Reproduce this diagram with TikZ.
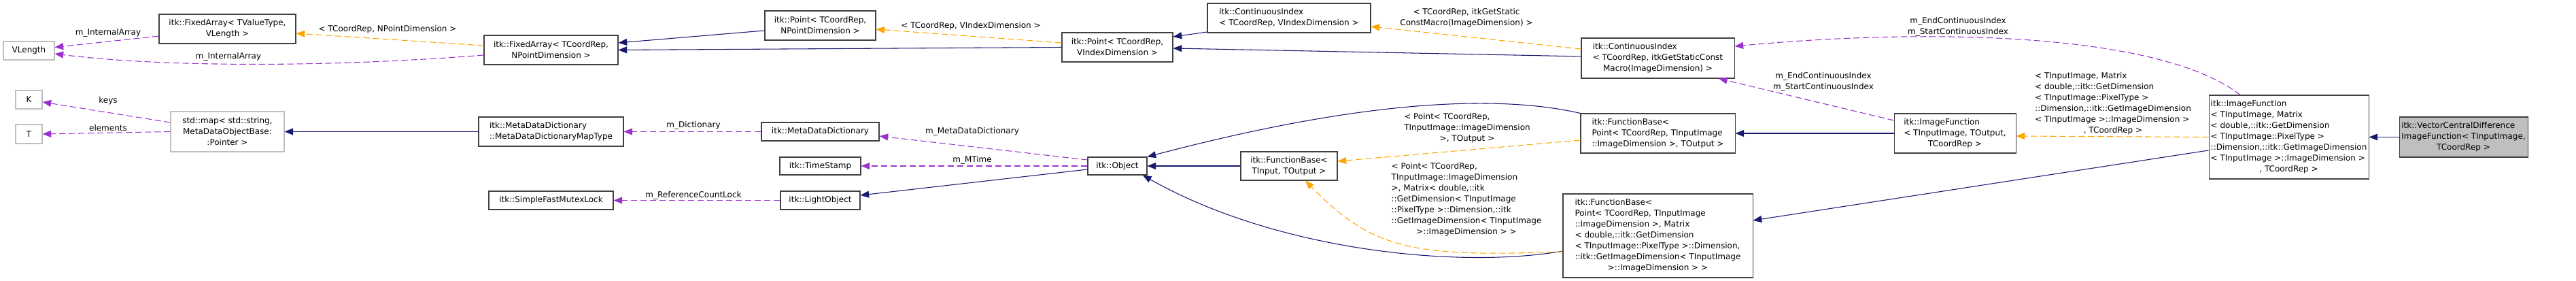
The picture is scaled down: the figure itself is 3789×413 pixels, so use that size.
\documentclass[tikz,border=0pt]{standalone}
\usepackage{fontspec}
\setmainfont{DejaVu Sans}
\usepackage{xcolor}
\usepackage{tikz}
\usetikzlibrary{arrows.meta}
\definecolor{inhblue}{HTML}{191970}
\definecolor{mempurple}{HTML}{9A32CD}
\definecolor{tplorange}{HTML}{FFA500}
\definecolor{clsborder}{HTML}{404040}
\definecolor{extborder}{HTML}{BFBFBF}
\definecolor{mainfill}{HTML}{BFBFBF}
\newcommand{\dgfont}{\fontsize{9}{12}\selectfont}
\newcommand{\lastmid}[1]{\hspace*{\fill}#1\hspace*{\fill}}

\begin{document}
\begin{tikzpicture}[x=0.75pt, y=-0.75pt,
  cls/.style 2 args={draw=clsborder, line width=0.8pt, inner sep=1pt, align=center, font=\dgfont, minimum width=#1*0.75pt, minimum height=#2*0.75pt},
  ext/.style 2 args={cls={#1}{#2}, draw=extborder},
  lbl/.style={inner sep=0pt, align=center, font=\dgfont},
  inh/.style={draw=inhblue, line width=0.8pt, -{Triangle[length=9.5pt, width=7.5pt]}},
  mem/.style={inh, draw=mempurple, dash pattern=on 7pt off 3.5pt},
  tpl/.style={inh, draw=tplorange, dash pattern=on 7pt off 3.5pt}]
  \useasboundingbox (0,0) rectangle (3789,413);

  % classes
  \node[ext={75}{27}] (vlen) at (42.5,74.5) {VLength};
  \node[ext={39}{27}] (kk) at (42.5,146.5) {K};
  \node[ext={39}{28}] (tt) at (42.5,197) {T};
  \node[cls={201}{43}] (fixv) at (334.5,42.5) {itk::FixedArray< TValueType,\\VLength >};
  \node[ext={167}{59}] (stdmap) at (334.5,193.5) {std::map< std::string,\\MetaDataObjectBase:\\:Pointer >};
  \node[cls={197}{43}] (fixn) at (810.5,73.5) {itk::FixedArray< TCoordRep,\\NPointDimension >};
  \node[cls={213}{43}, align=left] (mapty) at (810.5,193.5) {itk::MetaDataDictionary\\::MetaDataDictionaryMapType};
  \node[cls={183}{27}] (mutex) at (810.5,294.5) {itk::SimpleFastMutexLock};
  \node[cls={163}{43}] (pntn) at (1206.5,37.5) {itk::Point< TCoordRep,\\NPointDimension >};
  \node[cls={173}{27}] (mdd) at (1206.5,193.5) {itk::MetaDataDictionary};
  \node[cls={119}{26}] (tstamp) at (1206.5,244) {itk::TimeStamp};
  \node[cls={117}{27}] (light) at (1206.5,294.5) {itk::LightObject};
  \node[cls={163}{43}] (pntv) at (1643.5,69.5) {itk::Point< TCoordRep,\\VIndexDimension >};
  \node[cls={87}{26}] (obj) at (1643.5,244) {itk::Object};
  \node[cls={240}{43}, align=left] (cidxv) at (1896,26.5) {itk::ContinuousIndex\\< TCoordRep, VIndexDimension >};
  \node[cls={142}{42}] (fbase) at (1896,244) {itk::FunctionBase<\\TInput, TOutput >};
  \node[cls={225}{59}, align=left] (cidxs) at (2438.5,85.5) {itk::ContinuousIndex\\< TCoordRep, itkGetStaticConst\\\lastmid{Macro(ImageDimension) >}};
  \node[cls={227}{58}, align=left] (fbpt) at (2438.5,196) {itk::FunctionBase<\\Point< TCoordRep, TInputImage\\::ImageDimension >, TOutput >};
  \node[cls={279}{123}, align=left] (fbmx) at (2438.5,346.5) {itk::FunctionBase<\\Point< TCoordRep, TInputImage\\::ImageDimension >, Matrix\\< double,::itk::GetDimension\\< TInputImage::PixelType >::Dimension,\\::itk::GetImageDimension< TInputImage\\\lastmid{>::ImageDimension > >}};
  \node[cls={179}{58}, align=left] (imgf) at (2875.5,196) {itk::ImageFunction\\< TInputImage, TOutput,\\\lastmid{TCoordRep >}};
  \node[cls={235}{123}, align=left] (imgfm) at (3366.5,201.5) {itk::ImageFunction\\< TInputImage, Matrix\\< double,::itk::GetDimension\\< TInputImage::PixelType >\\::Dimension,::itk::GetImageDimension\\< TInputImage >::ImageDimension >\\\lastmid{, TCoordRep >}};
  \node[cls={189}{59}, align=left, fill=mainfill] (vcd) at (3623.5,201.5) {itk::VectorCentralDifference\\ImageFunction< TInputImage,\\\lastmid{TCoordRep >}};

  % edge labels
  \node[lbl] (l1) at (159,48) {m\_InternalArray};
  \node[lbl] (l2) at (336,83) {m\_InternalArray};
  \node[lbl] (l3) at (159,148) {keys};
  \node[lbl] (l4) at (159,188) {elements};
  \node[lbl] (l5) at (570,43) {< TCoordRep, NPointDimension >};
  \node[lbl] (l6) at (1020,184) {m\_Dictionary};
  \node[lbl] (l7) at (1020,287) {m\_ReferenceCountLock};
  \node[lbl] (l8) at (1428,38) {< TCoordRep, VIndexDimension >};
  \node[lbl] (l9) at (1430,193) {m\_MetaDataDictionary};
  \node[lbl] (l10) at (1430,235) {m\_MTime};
  \node[lbl] (l11) at (2157,26) {< TCoordRep, itkGetStatic\\ConstMacro(ImageDimension) >};
  \node[lbl, align=left] (l12) at (2158,188) {< Point< TCoordRep,\\TInputImage::ImageDimension\\\lastmid{>, TOutput >}};
  \node[lbl, align=left] (l13) at (2157,293) {< Point< TCoordRep,\\TInputImage::ImageDimension\\>, Matrix< double,::itk\\::GetDimension< TInputImage\\::PixelType >::Dimension,::itk\\::GetImageDimension< TInputImage\\\lastmid{>::ImageDimension > >}};
  \node[lbl] (l14) at (2682,120) {m\_EndContinuousIndex\\m\_StartContinuousIndex};
  \node[lbl] (l15) at (2880,39) {m\_EndContinuousIndex\\m\_StartContinuousIndex};
  \node[lbl, align=left] (l16) at (3108,152) {< TInputImage, Matrix\\< double,::itk::GetDimension\\< TInputImage::PixelType >\\::Dimension,::itk::GetImageDimension\\< TInputImage >::ImageDimension >\\\lastmid{, TCoordRep >}};

  % inheritance
  \draw[inh] ([yshift=-5.6pt]pntn.west) -- ([yshift=7.9pt]fixn.east);
  \draw[inh] (pntv.west) -- (fixn.east);
  \draw[inh] ([yshift=-15.4pt]cidxv.west) -- ([yshift=11.6pt]pntv.east);
  \draw[inh] ([yshift=1.9pt]cidxs.west) -- ([yshift=-1.1pt]pntv.east);
  \draw[inh] (mapty.west) -- (stdmap.east);
  \draw[inh] ([yshift=-3.75pt]obj.west) -- ([yshift=5.6pt]light.east);
  \draw[inh] (fbase.west) -- (obj.east);
  \draw[inh] (fbpt.north west) .. controls (2200,138) and (2000,148) .. (obj.north east);
  \draw[inh] ([yshift=-16.9pt]fbmx.west) .. controls (2150,395) and (1880,370) .. ([xshift=-5pt]obj.south east);
  \draw[inh] (imgf.west) -- (fbpt.east);
  \draw[inh] ([yshift=-14.6pt]imgfm.west) -- ([yshift=16.9pt]fbmx.east);
  \draw[inh] (vcd.west) -- (imgfm.east);

  % template instances
  \draw[tpl] ([yshift=4.9pt]fixn.west) -- ([yshift=-4.9pt]fixv.east);
  \draw[tpl] ([yshift=4.9pt]pntv.west) -- ([yshift=-4.1pt]pntn.east);
  \draw[tpl] ([yshift=10.1pt]cidxs.west) -- ([yshift=-9.4pt]cidxv.east);
  \draw[tpl] ([yshift=-7.5pt]fbpt.west) -- ([yshift=5.25pt]fbase.east);
  \draw[tpl] ([yshift=-17.6pt]fbmx.west) .. controls (2080,378) and (2020,368) .. ([xshift=18pt]fbase.south);
  \draw[tpl] (imgfm.west) -- ([yshift=-3pt]imgf.east);

  % members
  \draw[mem] ([yshift=-7.9pt]fixv.west) -- ([yshift=3.75pt]vlen.east);
  \draw[mem] ([yshift=-5.6pt]fixn.west) .. controls (500,98) and (250,100) .. ([yshift=-3.4pt]vlen.east);
  \draw[mem] ([yshift=10.1pt]stdmap.west) -- ([yshift=-2.6pt]kk.east);
  \draw[mem] (stdmap.west) -- (tt.east);
  \draw[mem] (mdd.west) -- (mapty.east);
  \draw[mem] (light.west) -- (mutex.east);
  \draw[mem] ([yshift=6.75pt]obj.west) -- ([yshift=-4.9pt]mdd.east);
  \draw[mem] (obj.west) -- (tstamp.east);
  \draw[mem] ([xshift=-53.6pt]imgfm.north) .. controls (3180,50) and (2850,40) .. ([yshift=13.1pt]cidxs.east);
  \draw[mem] ([yshift=14.25pt]imgf.west) -- ([xshift=67.1pt]cidxs.south);
\end{tikzpicture}
\end{document}
